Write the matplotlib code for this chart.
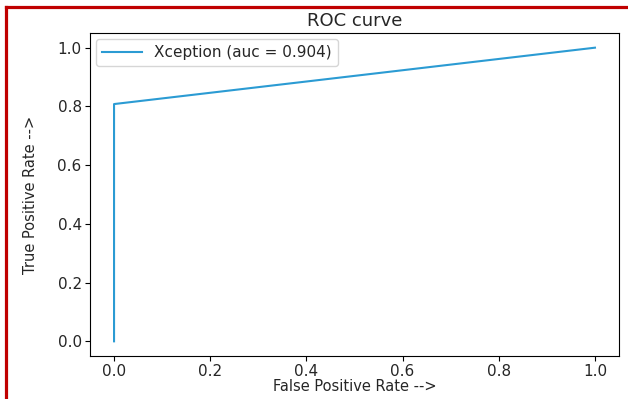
import matplotlib.pyplot as plt
from matplotlib.lines import Line2D

fpr = [0.0, 0.0, 1.0]
tpr = [0.0, 0.808, 1.0]
model_name = "Xception"
auc = 0.904

plt.rcParams["font.size"] = 11
plt.rcParams["text.color"] = "#262626"
plt.rcParams["xtick.labelcolor"] = "#262626"
plt.rcParams["ytick.labelcolor"] = "#262626"

fig = plt.figure(figsize=(6.28, 3.99), dpi=100)
ax = fig.add_axes([90/628, 1-356/399, (619-90)/628, (356-33)/399])
ax.plot(fpr, tpr, color="#2b9bd3", label="%s (auc = %.3f)" % (model_name, auc))
ax.set_title("ROC curve", fontsize=13, pad=5)
ax.set_xlabel("False Positive Rate -->", fontsize=10.5, labelpad=0, color="#262626")
ax.set_ylabel("True Positive Rate -->", fontsize=10.5, labelpad=14, color="#262626")
ax.tick_params(labelsize=11, pad=2.5)
ax.legend(loc="upper left", handlelength=2.6, borderaxespad=0.4)

# red frame on top and left edge
fig.add_artist(Line2D([5.5/628, 1.0], [1-6.5/399, 1-6.5/399], color="#c00000", lw=2.3,
                      transform=fig.transFigure))
fig.add_artist(Line2D([5.5/628, 5.5/628], [0.0, 1-6.5/399], color="#c00000", lw=2.3,
                      transform=fig.transFigure))

fig.savefig("out.png", dpi=100)
